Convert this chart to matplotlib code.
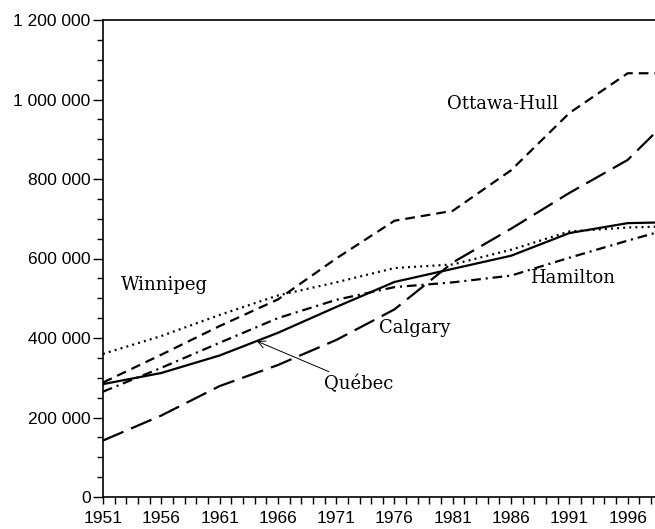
import matplotlib
matplotlib.use("Agg")
import matplotlib.pyplot as plt
from matplotlib.ticker import MultipleLocator, FixedLocator, FuncFormatter

# Population des RMR, 1951-2001 (en milliers)
years = [1951, 1956, 1961, 1966, 1971, 1976, 1981, 1986, 1991, 1996, 2001]
ottawa_hull = [288, 358, 430, 497, 600, 695, 720, 822, 966, 1066, 1066]
calgary = [142, 205, 279, 332, 395, 472, 590, 675, 765, 848, 993]
winnipeg = [360, 405, 458, 507, 540, 576, 585, 622, 668, 678, 682]
quebec = [284, 312, 356, 413, 478, 541, 574, 607, 664, 689, 692]
hamilton = [265, 325, 388, 450, 496, 528, 540, 557, 602, 645, 686]
tick_years = list(range(1951, 1997, 5))

plt.rcParams['lines.scale_dashes'] = False
plt.rcParams['font.family'] = ['Liberation Sans']
serif = 'DejaVu Serif'

fig = plt.figure(figsize=(6.55, 5.29), dpi=100)
ax = fig.add_axes([103 / 655, 1 - 497 / 529, 583 / 655, 477 / 529])

def k(vals):
    return [v * 1000 for v in vals]

lw = 1.6
ax.plot(years, k(ottawa_hull), color='black', lw=lw, dashes=(7, 4.3), dash_capstyle='butt')
ax.plot(years, k(calgary), color='black', lw=lw, dashes=(16, 6), dash_capstyle='butt')
ax.plot(years, k(winnipeg), color='black', lw=lw, dashes=(1.4, 3.0), dash_capstyle='butt')
ax.plot(years, k(quebec), color='black', lw=lw, linestyle='-')
ax.plot(years, k(hamilton), color='black', lw=lw, dashes=(7, 3.5, 1.5, 3.5), dash_capstyle='butt')

ax.set_xlim(1951, 2001)
ax.set_ylim(0, 1200000)

# étiquettes des séries
lab = dict(fontsize=13, family=serif, ha='center', va='center')
ax.text(1985.3, 988000, 'Ottawa-Hull', **lab)
ax.text(1956.3, 533000, 'Winnipeg', **lab)
ax.text(1991.3, 551000, 'Hamilton', **lab)
ax.text(1977.7, 425000, 'Calgary', **lab)
ax.annotate('Québec', xy=(1964.2, 392000), xytext=(1972.9, 284000),
            fontsize=13, family=serif, ha='center', va='center',
            arrowprops=dict(arrowstyle='->', lw=0.7, color='black',
                            shrinkA=1, shrinkB=0))

# axes
ax.spines['right'].set_visible(False)
for s in ['left', 'bottom', 'top']:
    ax.spines[s].set_linewidth(1.2)

ax.xaxis.set_major_locator(FixedLocator(tick_years))
ax.xaxis.set_minor_locator(MultipleLocator(1))
ax.yaxis.set_major_locator(MultipleLocator(200000))
ax.yaxis.set_minor_locator(MultipleLocator(50000))
ax.yaxis.set_major_formatter(FuncFormatter(lambda v, p: f'{int(v):,}'.replace(',', ' ')))

ax.tick_params(axis='x', which='both', direction='out', length=5, width=1, labelsize=12.5, pad=5)
ax.tick_params(axis='y', which='major', direction='out', length=7, width=1, labelsize=12.5, pad=2)
ax.tick_params(axis='y', which='minor', direction='out', length=4, width=1)

fig.savefig('out.png', dpi=100)
